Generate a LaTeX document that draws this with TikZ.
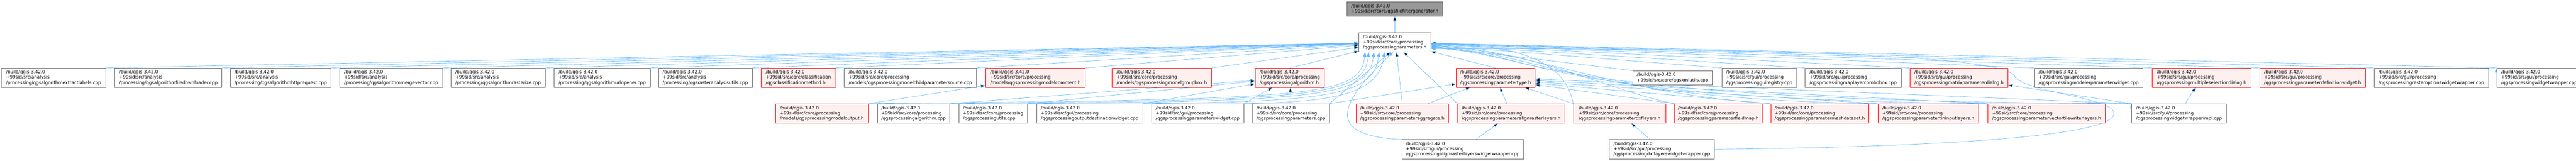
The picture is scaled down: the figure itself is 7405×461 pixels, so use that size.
\documentclass[tikz,border=0pt]{standalone}
\usepackage{fontspec}
\setmainfont{DejaVu Sans}
\usetikzlibrary{positioning,arrows.meta,backgrounds}
\definecolor{linkblue}{HTML}{63B8FF}
\definecolor{truncfill}{HTML}{FFF0F0}
\definecolor{boxline}{HTML}{666666}
\definecolor{rootfill}{HTML}{999999}
\tikzset{
  file/.style={draw=boxline,fill=white,line width=1pt,align=left,minimum height=55pt,
    inner xsep=5pt,inner ysep=3pt,font=\fontsize{12.8}{15}\selectfont},
  trunc/.style={file,draw=red,fill=truncfill},
  rootfile/.style={file,fill=rootfill,minimum height=41pt},
  link/.style={draw=linkblue,line width=1pt}
}

\begin{document}
\begin{tikzpicture}[x=1pt,y=1pt,>={Triangle[length=13pt,width=9pt]}]
\useasboundingbox (0,0) rectangle (7405,-461);

           \node[rootfile,minimum width=275pt] (filefiltergenerator) at (4009.5,-25.5) {/build/qgis-3.42.0\\+99sid/src/core/qgsfilefiltergenerator.h};
           \node[file,minimum width=207pt] (parameters_h) [below=47pt of filefiltergenerator] {/build/qgis-3.42.0\\+99sid/src/core/processing\\/qgsprocessingparameters.h};

           \node[file,minimum width=300pt] (extractlabels) at (154,-223) {/build/qgis-3.42.0\\+99sid/src/analysis\\/processing/qgsalgorithmextractlabels.cpp};
           \node[file,minimum width=308pt] (filedownloader) [right=25pt of extractlabels] {/build/qgis-3.42.0\\+99sid/src/analysis\\/processing/qgsalgorithmfiledownloader.cpp};
           \node[file,minimum width=288pt] (httprequest) [right=24pt of filedownloader] {/build/qgis-3.42.0\\+99sid/src/analysis\\/processing/qgsalgorithmhttprequest.cpp};
           \node[file,minimum width=295pt] (mergevector) [right=25pt of httprequest] {/build/qgis-3.42.0\\+99sid/src/analysis\\/processing/qgsalgorithmmergevector.cpp};
           \node[file,minimum width=270pt] (rasterize) [right=24pt of mergevector] {/build/qgis-3.42.0\\+99sid/src/analysis\\/processing/qgsalgorithmrasterize.cpp};
           \node[file,minimum width=276pt] (urlopener) [right=25pt of rasterize] {/build/qgis-3.42.0\\+99sid/src/analysis\\/processing/qgsalgorithmurlopener.cpp};
           \node[file,minimum width=269pt] (rasteranalysisutils) [right=23pt of urlopener] {/build/qgis-3.42.0\\+99sid/src/analysis\\/processing/qgsrasteranalysisutils.cpp};
           \node[trunc,minimum width=214pt] (classificationmethod) [right=25pt of rasteranalysisutils] {/build/qgis-3.42.0\\+99sid/src/core/classification\\/qgsclassificationmethod.h};
           \node[file,minimum width=380pt] (childparamsource) [right=24pt of classificationmethod] {/build/qgis-3.42.0\\+99sid/src/core/processing\\/models/qgsprocessingmodelchildparametersource.cpp};
           \node[trunc,minimum width=287pt] (modelcomment) [right=25pt of childparamsource] {/build/qgis-3.42.0\\+99sid/src/core/processing\\/models/qgsprocessingmodelcomment.h};
           \node[trunc,minimum width=285pt] (modelgroupbox) [right=76pt of modelcomment] {/build/qgis-3.42.0\\+99sid/src/core/processing\\/models/qgsprocessingmodelgroupbox.h};
           \node[trunc,minimum width=199pt] (algorithm_h) [right=125pt of modelgroupbox] {/build/qgis-3.42.0\\+99sid/src/core/processing\\/qgsprocessingalgorithm.h};
           \node[trunc,minimum width=227pt] (parametertype) [right=378pt of algorithm_h] {/build/qgis-3.42.0\\+99sid/src/core/processing\\/qgsprocessingparametertype.h};
           \node[file,minimum width=228pt,minimum height=40pt] (xmlutils) [right=280pt of parametertype] {/build/qgis-3.42.0\\+99sid/src/core/qgsxmlutils.cpp};
           \node[file,minimum width=214pt] (guiregistry) [right=27pt of xmlutils] {/build/qgis-3.42.0\\+99sid/src/gui/processing\\/qgsprocessingguiregistry.cpp};
           \node[file,minimum width=276pt] (maplayercombobox) [right=24pt of guiregistry] {/build/qgis-3.42.0\\+99sid/src/gui/processing\\/qgsprocessingmaplayercombobox.cpp};
           \node[trunc,minimum width=281pt] (matrixdialog) [right=25pt of maplayercombobox] {/build/qgis-3.42.0\\+99sid/src/gui/processing\\/qgsprocessingmatrixparameterdialog.h};
           \node[file,minimum width=312pt] (modelerwidget) [right=75pt of matrixdialog] {/build/qgis-3.42.0\\+99sid/src/gui/processing\\/qgsprocessingmodelerparameterwidget.cpp};
           \node[trunc,minimum width=284pt] (multiselectdialog) [right=26pt of modelerwidget] {/build/qgis-3.42.0\\+99sid/src/gui/processing\\/qgsprocessingmultipleselectiondialog.h};
           \node[trunc,minimum width=304pt] (paramdefwidget) [right=24pt of multiselectdialog] {/build/qgis-3.42.0\\+99sid/src/gui/processing\\/qgsprocessingparameterdefinitionwidget.h};
           \node[file,minimum width=328pt] (rasteroptionswrapper) [right=24pt of paramdefwidget] {/build/qgis-3.42.0\\+99sid/src/gui/processing\\/qgsprocessingrasteroptionswidgetwrapper.cpp};
           \node[file,minimum width=242pt] (widgetwrapper) [right=24pt of rasteroptionswrapper] {/build/qgis-3.42.0\\+99sid/src/gui/processing\\/qgsprocessingwidgetwrapper.cpp};

           \node[trunc,minimum width=267pt] (modeloutput) at (2362.5,-325.5) {/build/qgis-3.42.0\\+99sid/src/core/processing\\/models/qgsprocessingmodeloutput.h};
           \node[file,minimum width=208pt] (algorithm_cpp) [right=25pt of modeloutput] {/build/qgis-3.42.0\\+99sid/src/core/processing\\/qgsprocessingalgorithm.cpp};
           \node[file,minimum width=198pt] (utils_cpp) [right=25pt of algorithm_cpp] {/build/qgis-3.42.0\\+99sid/src/core/processing\\/qgsprocessingutils.cpp};
           \node[file,minimum width=305pt] (outputdestwidget) [right=25pt of utils_cpp] {/build/qgis-3.42.0\\+99sid/src/gui/processing\\/qgsprocessingoutputdestinationwidget.cpp};
           \node[file,minimum width=264pt] (paramswidget) [right=25pt of outputdestwidget] {/build/qgis-3.42.0\\+99sid/src/gui/processing\\/qgsprocessingparameterswidget.cpp};
           \node[file,minimum width=220pt] (parameters_cpp) [right=25pt of paramswidget] {/build/qgis-3.42.0\\+99sid/src/core/processing\\/qgsprocessingparameters.cpp};
           \node[trunc,minimum width=266pt] (paramaggregate) [right=76pt of parameters_cpp] {/build/qgis-3.42.0\\+99sid/src/core/processing\\/qgsprocessingparameteraggregate.h};
           \node[trunc,minimum width=308pt] (paramalignraster) [right=25pt of paramaggregate] {/build/qgis-3.42.0\\+99sid/src/core/processing\\/qgsprocessingparameteralignrasterlayers.h};
           \node[trunc,minimum width=266pt] (paramdxflayers) [right=24pt of paramalignraster] {/build/qgis-3.42.0\\+99sid/src/core/processing\\/qgsprocessingparameterdxflayers.h};
           \node[trunc,minimum width=251pt] (paramfieldmap) [right=24pt of paramdxflayers] {/build/qgis-3.42.0\\+99sid/src/core/processing\\/qgsprocessingparameterfieldmap.h};
           \node[trunc,minimum width=282pt] (parammeshdataset) [right=24pt of paramfieldmap] {/build/qgis-3.42.0\\+99sid/src/core/processing\\/qgsprocessingparametermeshdataset.h};
           \node[trunc,minimum width=290pt] (paramtininput) [right=25pt of parammeshdataset] {/build/qgis-3.42.0\\+99sid/src/core/processing\\/qgsprocessingparametertininputlayers.h};
           \node[trunc,minimum width=338pt] (paramvectortile) [right=25pt of paramtininput] {/build/qgis-3.42.0\\+99sid/src/core/processing\\/qgsprocessingparametervectortilewriterlayers.h};
           \node[file,minimum width=272pt] (widgetwrapperimpl) [right=75pt of paramvectortile] {/build/qgis-3.42.0\\+99sid/src/gui/processing\\/qgsprocessingwidgetwrapperimpl.cpp};

           \node[file,minimum width=350pt] (alignrasterwrapper) at (4205,-428.5) {/build/qgis-3.42.0\\+99sid/src/gui/processing\\/qgsprocessingalignrasterlayerswidgetwrapper.cpp};
           \node[file,minimum width=302pt] (dxflayerswrapper) [right=245pt of alignrasterwrapper] {/build/qgis-3.42.0\\+99sid/src/gui/processing\\/qgsprocessingdxflayerswidgetwrapper.cpp};

           \coordinate (dxfA) at (6077,-326);
           \coordinate (dxfB) at (5793,-223);

\begin{scope}[on background layer]
            \path[->,link]
            (parameters_h) edge (filefiltergenerator)
            (extractlabels.north east) edge (parameters_h)
            (filedownloader.north east) edge (parameters_h)
            (httprequest.north east) edge (parameters_h)
            (mergevector.north east) edge (parameters_h)
            (rasterize.north east) edge (parameters_h)
            (urlopener.north east) edge (parameters_h)
            (rasteranalysisutils.north east) edge (parameters_h)
            (classificationmethod.north east) edge (parameters_h)
            (childparamsource.north east) edge (parameters_h)
            (modelcomment.north east) edge (parameters_h)
            (modelgroupbox.north east) edge (parameters_h)
            (algorithm_h.north) edge (parameters_h)
            (parametertype.north) edge (parameters_h)
            (xmlutils.north west) edge (parameters_h)
            (guiregistry.north west) edge (parameters_h)
            (maplayercombobox.north west) edge (parameters_h)
            (matrixdialog.north west) edge (parameters_h)
            (modelerwidget.north west) edge (parameters_h)
            (multiselectdialog.north west) edge (parameters_h)
            (paramdefwidget.north west) edge (parameters_h)
            (rasteroptionswrapper.north west) edge (parameters_h)
            (widgetwrapper.north west) edge (parameters_h);

            \path[->,link]
            (modeloutput.north east) edge (modelcomment)
            (algorithm_cpp.north east) edge (algorithm_h)
            (utils_cpp.north east) edge (algorithm_h)
            (outputdestwidget.north east) edge (algorithm_h)
            (paramswidget.north east) edge (algorithm_h)
            (parameters_cpp.north) edge (algorithm_h)
            (parameters_cpp.north east) edge (parametertype)
                  edge ([xshift=-12pt]parameters_h.south)
            (paramaggregate) edge (parametertype)
            (paramaggregate.north) edge ([xshift=5pt]parameters_h.south)
            (paramalignraster) edge (parametertype)
            (paramalignraster.north west) edge ([xshift=25pt]parameters_h.south)
            (paramdxflayers.north west) edge (parametertype)
            (paramfieldmap.north west) edge ([yshift=-20pt]parametertype.east)
            (parammeshdataset.north west) edge ([yshift=-16pt]parametertype.east)
            (paramtininput.north west) edge ([yshift=-12pt]parametertype.east)
            (paramvectortile.north west) edge ([yshift=-8pt]parametertype.east)
            (widgetwrapperimpl.north west) edge ([yshift=-4pt]parametertype.east)
                  edge (matrixdialog)
            (widgetwrapperimpl) edge (multiselectdialog)
            (alignrasterwrapper) edge (paramalignraster)
            (dxflayerswrapper) edge (paramdxflayers);

            \draw[->,link] (modeloutput.north east) .. controls +(1300,12) and +(-15,-127) .. ([xshift=-85pt]parameters_h.south);
            \draw[->,link] (algorithm_cpp.north east) .. controls +(1070,10) and +(-15,-127) .. ([xshift=-75pt]parameters_h.south);
            \draw[->,link] (utils_cpp.north east) .. controls +(850,8) and +(-15,-127) .. ([xshift=-60pt]parameters_h.south);
            \draw[->,link] (outputdestwidget.north east) .. controls +(520,6) and +(-15,-127) .. ([xshift=-45pt]parameters_h.south);
            \draw[->,link] (paramswidget.north east) .. controls +(240,5) and +(-15,-127) .. ([xshift=-30pt]parameters_h.south);
            \draw[->,link] (alignrasterwrapper.north west) .. controls +(-230,11) and +(-150,-142) .. ([xshift=-5pt]parameters_h.south);
            \draw[->,link] (paramdxflayers.north west) .. controls +(-20,100) and +(300,0) .. ([yshift=-6pt]parameters_h.east);
            \draw[->,link] (paramfieldmap.north west) .. controls +(-200,40) and +(320,-20) .. ([yshift=-8pt]parameters_h.east);
            \draw[->,link] (parammeshdataset.north west) .. controls +(-450,30) and +(320,-20) .. ([yshift=-10pt]parameters_h.east);
            \draw[->,link] (paramtininput.north west) .. controls +(-850,13) and +(320,-20) .. ([yshift=-12pt]parameters_h.east);
            \draw[->,link] (paramvectortile.north west) .. controls +(-1300,13) and +(320,-20) .. ([yshift=-14pt]parameters_h.east);
            \draw[->,link] (widgetwrapperimpl.north west) .. controls +(-1720,6) and +(320,-20) .. ([yshift=-16pt]parameters_h.east);
            \draw[->,link] (dxflayerswrapper.east) .. controls +(780,8) and +(0,-55) .. (dxfA)
                  .. controls +(0,45) and +(50,-45) .. (dxfB)
                  .. controls +(-5,80) and +(600,0) .. ([yshift=-18pt]parameters_h.east);
\end{scope}
        \end{tikzpicture}
\end{document}
